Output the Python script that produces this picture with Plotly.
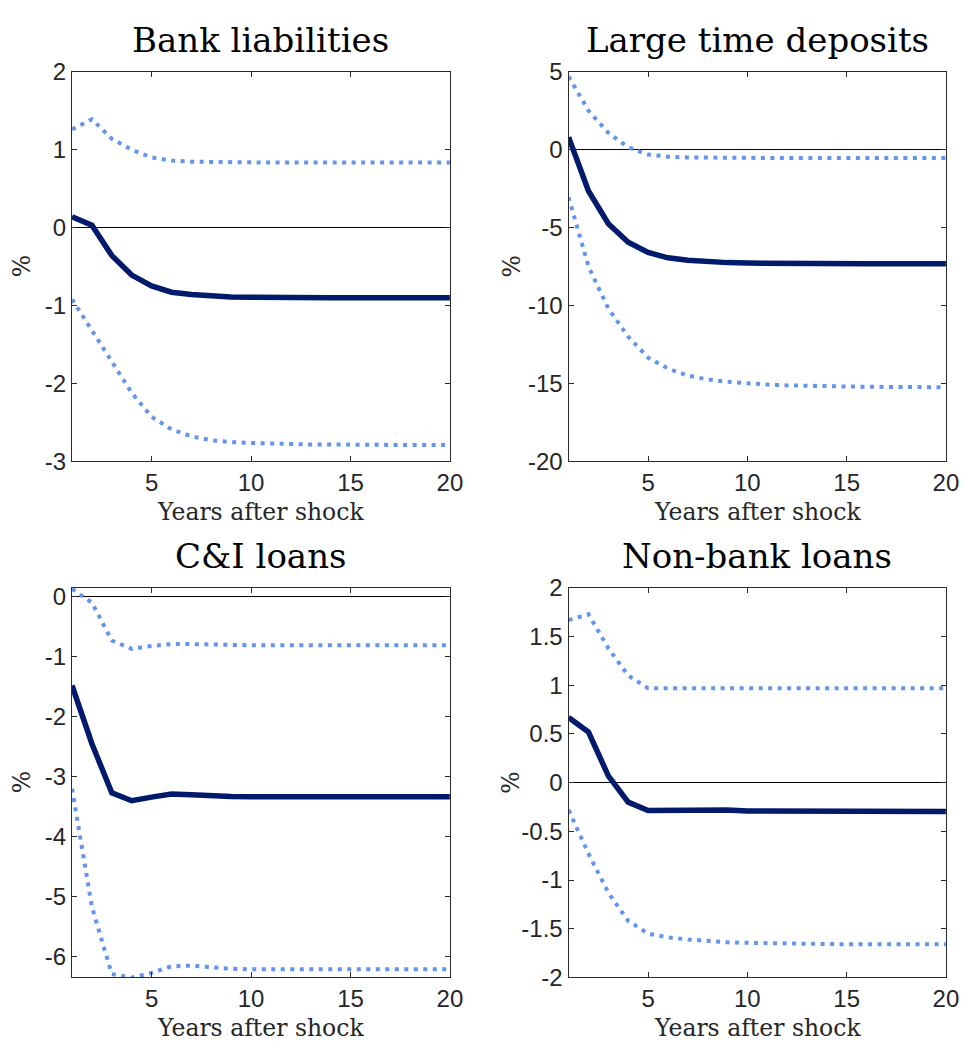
import plotly.graph_objects as go

years = list(range(1, 21))

titles = ["Bank liabilities", "Large time deposits", "C&I loans", "Non-bank loans"]

# Bank liabilities
bank_main = [0.14, 0.03, -0.36, -0.61, -0.75, -0.83, -0.86, -0.88, -0.89, -0.895,
             -0.9, -0.9, -0.9, -0.9, -0.9, -0.9, -0.9, -0.9, -0.9, -0.9]
bank_upper = [1.26, 1.39, 1.14, 1.0, 0.9, 0.86, 0.845, 0.84, 0.835, 0.835,
              0.835, 0.835, 0.835, 0.835, 0.835, 0.835, 0.835, 0.835, 0.835, 0.835]
bank_lower = [-0.92, -1.31, -1.72, -2.12, -2.43, -2.59, -2.68, -2.73, -2.755, -2.765,
              -2.775, -2.78, -2.785, -2.785, -2.79, -2.79, -2.79, -2.79, -2.79, -2.79]

# Large time deposits
ltd_main = [0.8, -2.65, -4.75, -5.94, -6.6, -6.94, -7.1, -7.2, -7.25, -7.28,
            -7.3, -7.31, -7.32, -7.32, -7.33, -7.33, -7.33, -7.33, -7.33, -7.33]
ltd_upper = [4.7, 2.5, 1.08, 0.15, -0.31, -0.45, -0.5, -0.52, -0.53, -0.53,
             -0.54, -0.54, -0.54, -0.54, -0.54, -0.54, -0.54, -0.54, -0.54, -0.54]
ltd_lower = [-3.05, -7.5, -10.2, -12.0, -13.35, -14.05, -14.5, -14.75, -14.9, -15.0,
             -15.08, -15.13, -15.17, -15.2, -15.2, -15.22, -15.23, -15.23, -15.24, -15.25]

# C&I loans
ci_main = [-1.48, -2.45, -3.27, -3.4, -3.34, -3.29, -3.3, -3.32, -3.33, -3.335,
           -3.335, -3.335, -3.335, -3.335, -3.335, -3.335, -3.335, -3.335, -3.335, -3.335]
ci_upper = [0.13, -0.1, -0.73, -0.87, -0.82, -0.79, -0.79, -0.8, -0.805, -0.81,
            -0.81, -0.81, -0.81, -0.81, -0.81, -0.81, -0.81, -0.81, -0.81, -0.81]
ci_lower = [-3.2, -5.17, -6.29, -6.35, -6.27, -6.16, -6.15, -6.18, -6.2, -6.21,
            -6.21, -6.21, -6.21, -6.21, -6.21, -6.21, -6.21, -6.21, -6.21, -6.21]

# Non-bank loans
nb_main = [0.67, 0.52, 0.07, -0.2, -0.285, -0.285, -0.275, -0.275, -0.28, -0.29,
           -0.29, -0.295, -0.295, -0.295, -0.295, -0.295, -0.295, -0.295, -0.295, -0.295]
nb_upper = [1.67, 1.73, 1.38, 1.1, 0.97, 0.97, 0.975, 0.975, 0.97, 0.97,
            0.97, 0.97, 0.97, 0.97, 0.97, 0.97, 0.97, 0.97, 0.97, 0.97]
nb_lower = [-0.28, -0.73, -1.13, -1.42, -1.55, -1.59, -1.61, -1.63, -1.64, -1.645,
            -1.65, -1.65, -1.655, -1.655, -1.66, -1.66, -1.66, -1.66, -1.66, -1.66]

x_tickvals = [5, 10, 15, 20]
x_ticktext = ["5", "10", "15", "20"]

y_tickvals = [
    [-3, -2, -1, 0, 1, 2],
    [-20, -15, -10, -5, 0, 5],
    [-6, -5, -4, -3, -2, -1, 0],
    [-2, -1.5, -1, -0.5, 0, 0.5, 1, 1.5, 2],
]
y_ticktext = [
    ["-3", "-2", "-1", "0", "1", "2"],
    ["-20", "-15", "-10", "-5", "0", "5"],
    ["-6", "-5", "-4", "-3", "-2", "-1", "0"],
    ["-2", "-1.5", "-1", "-0.5", "0", "0.5", "1", "1.5", "2"],
]
y_ranges = [[-3, 2], [-20, 5], [-6.345, 0.146], [-2, 2]]

series = [
    (bank_main, bank_upper, bank_lower),
    (ltd_main, ltd_upper, ltd_lower),
    (ci_main, ci_upper, ci_lower),
    (nb_main, nb_upper, nb_lower),
]

W, H = 976, 1055
x_doms = [[73 / W, 456 / W], [576.3 / W, 958.7 / W]]
y_doms = [[1 - 459 / H, 1 - 59.3 / H], [1 - 988.7 / H, 1 - 589 / H]]

MAIN = "#021A6B"
BAND = "#6495ED"
AX = "#2b2b2b"
SERIF = "DejaVu Serif"
SANS = "Liberation Sans"

fig = go.Figure()
layout = dict(
    width=W, height=H,
    margin=dict(l=0, r=0, t=0, b=0),
    paper_bgcolor="white", plot_bgcolor="white",
    showlegend=False,
    annotations=[],
)

for i in range(4):
    row, col = divmod(i, 2)
    n = i + 1
    xa = "x" if n == 1 else f"x{n}"
    ya = "y" if n == 1 else f"y{n}"
    main, up, lo = series[i]
    for vals in (up, lo):
        fig.add_trace(go.Scatter(x=years, y=vals, xaxis=xa, yaxis=ya, mode="lines",
                                 line=dict(color=BAND, width=4, dash="4px,5.5px"),
                                 hoverinfo="skip"))
    fig.add_trace(go.Scatter(x=years, y=main, xaxis=xa, yaxis=ya, mode="lines",
                             line=dict(color=MAIN, width=5.5), hoverinfo="skip"))

    xkey = "xaxis" if n == 1 else f"xaxis{n}"
    ykey = "yaxis" if n == 1 else f"yaxis{n}"
    layout[xkey] = dict(
        domain=x_doms[col], anchor=ya, range=[1, 20],
        tickvals=x_tickvals, ticktext=x_ticktext,
        ticks="inside", ticklen=5, tickcolor=AX, tickwidth=1,
        showline=True, linecolor=AX, linewidth=1.3, mirror="ticks",
        showgrid=False, zeroline=False,
        tickfont=dict(family=SANS, size=24, color="#262626"),
    )
    layout[ykey] = dict(
        domain=y_doms[row], anchor=xa, range=y_ranges[i],
        tickvals=y_tickvals[i], ticktext=y_ticktext[i],
        ticks="inside", ticklen=5, tickcolor=AX, tickwidth=1,
        showline=True, linecolor=AX, linewidth=1.3, mirror="ticks",
        showgrid=False, zeroline=True, zerolinecolor="black", zerolinewidth=1,
        tickfont=dict(family=SANS, size=24, color="#262626"),
    )

    xc = (x_doms[col][0] + x_doms[col][1]) / 2
    top_px = 59.3 if row == 0 else 589
    bot_px = 459 if row == 0 else 988.7
    layout["annotations"].append(dict(
        text=titles[i], xref="paper", yref="paper", x=xc, y=1 - (top_px - 33) / H,
        xanchor="center", yanchor="middle", showarrow=False,
        font=dict(family=SERIF, size=34, color="black")))
    layout["annotations"].append(dict(
        text="Years after shock", xref="paper", yref="paper", x=xc, y=1 - (bot_px + 52) / H,
        xanchor="center", yanchor="middle", showarrow=False,
        font=dict(family=SERIF, size=23.5, color="#262626")))
    ylab_x = (22 if col == 0 else 518) / W
    layout["annotations"].append(dict(
        text="%", xref="paper", yref="paper", x=ylab_x, y=1 - ((top_px + bot_px) / 2) / H,
        xanchor="center", yanchor="middle", showarrow=False, textangle=-90,
        font=dict(family=SERIF, size=23.5, color="#262626")))

fig.update_layout(**layout)
fig.write_html("out.html")
